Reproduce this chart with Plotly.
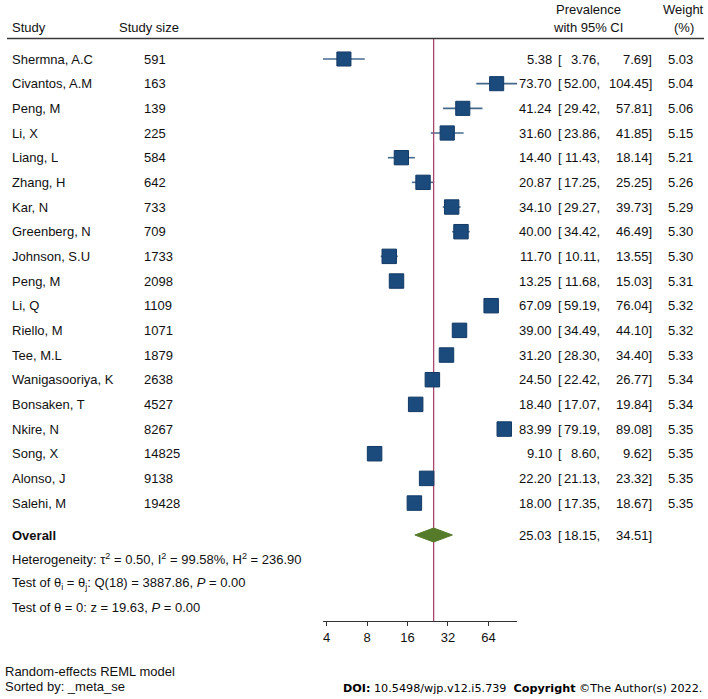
import math
import plotly.graph_objects as go

W, H = 708, 699

# ---------------- data ----------------
studies = ["Shermna, A.C", "Civantos, A.M", "Peng, M", "Li, X", "Liang, L", "Zhang, H",
           "Kar, N", "Greenberg, N", "Johnson, S.U", "Peng, M", "Li, Q", "Riello, M",
           "Tee, M.L", "Wanigasooriya, K", "Bonsaken, T", "Nkire, N", "Song, X",
           "Alonso, J", "Salehi, M"]
study_size = [591, 163, 139, 225, 584, 642, 733, 709, 1733, 2098, 1109, 1071, 1879,
              2638, 4527, 8267, 14825, 9138, 19428]
prevalence = [5.38, 73.70, 41.24, 31.60, 14.40, 20.87, 34.10, 40.00, 11.70, 13.25, 67.09,
              39.00, 31.20, 24.50, 18.40, 83.99, 9.10, 22.20, 18.00]
ci_low = [3.76, 52.00, 29.42, 23.86, 11.43, 17.25, 29.27, 34.42, 10.11, 11.68, 59.19,
          34.49, 28.30, 22.42, 17.07, 79.19, 8.60, 21.13, 17.35]
ci_high = [7.69, 104.45, 57.81, 41.85, 18.14, 25.25, 39.73, 46.49, 13.55, 15.03, 76.04,
           44.10, 34.40, 26.77, 19.84, 89.08, 9.62, 23.32, 18.67]
weights = [5.03, 5.04, 5.06, 5.15, 5.21, 5.26, 5.29, 5.30, 5.30, 5.31, 5.32, 5.32, 5.33,
           5.34, 5.34, 5.35, 5.35, 5.35, 5.35]
overall_est, overall_low, overall_high = 25.03, 18.15, 34.51
tick_vals = [4, 8, 16, 32, 64]

# ---------------- layout helpers ----------------
ROW0_PX, ROW_STEP = 59.0, 24.67


def px2row(py):
    return (py - ROW0_PX) / ROW_STEP


def xp(px):
    return px / W


def yp(py):
    return 1 - py / H


n = len(studies)
rows = list(range(n))
overall_row = px2row(535)

FONT = "Liberation Sans, Arial, sans-serif"
TXT = "#111111"
SQ = "#1b4a7c"
CI = "#45698b"
DIA = "#557a2a"
REF = "#a8486e"

fig = go.Figure()

# CI lines
cx, cy = [], []
for r, l, h in zip(rows, ci_low, ci_high):
    cx += [l, h, None]
    cy += [r, r, None]
fig.add_trace(go.Scatter(x=cx, y=cy, mode="lines", line=dict(color=CI, width=1.6),
                         hoverinfo="skip", cliponaxis=False))

# overall reference line
fig.add_trace(go.Scatter(x=[overall_est, overall_est], y=[px2row(38), px2row(621)],
                         mode="lines", line=dict(color=REF, width=1.3),
                         hoverinfo="skip", cliponaxis=False))

# squares
fig.add_trace(go.Scatter(
    x=prevalence, y=rows, mode="markers",
    marker=dict(symbol="square", color=SQ, opacity=1,
                size=[14.5 * math.sqrt(w / max(weights)) for w in weights],
                line=dict(color="#123a66", width=1)),
    cliponaxis=False, hoverinfo="skip"))

# diamond
dh = 7.0 / ROW_STEP
fig.add_trace(go.Scatter(
    x=[overall_low, overall_est, overall_high, overall_est, overall_low],
    y=[overall_row, overall_row - dh, overall_row, overall_row + dh, overall_row],
    mode="lines", fill="toself", fillcolor=DIA, line=dict(color=DIA, width=1),
    hoverinfo="skip", cliponaxis=False))

# ---------------- annotations ----------------
ann = []


def text(x, y, s, xanchor="left", size=13, yref="paper", family=FONT, color=TXT):
    ann.append(dict(x=x, y=y, xref="paper", yref=yref, text=s, showarrow=False,
                    xanchor=xanchor, yanchor="middle",
                    font=dict(family=family, size=size, color=color)))


# header
text(xp(10), yp(27), "Study")
text(xp(117), yp(27), "Study size")
text(xp(588), yp(9), "Prevalence", "center")
text(xp(588), yp(28), "with 95% CI", "center")
text(xp(683), yp(9), "Weight", "center")
text(xp(684), yp(28), "(%)", "center")

for r in rows:
    text(xp(10), r, studies[r], yref="y")
    text(xp(142), r, str(study_size[r]), yref="y")
    text(xp(554), r, f"{prevalence[r]:.2f}", "right", yref="y")
    text(xp(556), r, "[", yref="y")
    text(xp(602), r, f"{ci_low[r]:.2f},", "right", yref="y")
    text(xp(654), r, f"{ci_high[r]:.2f}]", "right", yref="y")
    text(xp(695), r, f"{weights[r]:.2f}", "right", yref="y")

text(xp(10), overall_row, "<b>Overall</b>", yref="y")
text(xp(554), overall_row, f"{overall_est:.2f}", "right", yref="y")
text(xp(556), overall_row, "[", yref="y")
text(xp(602), overall_row, f"{overall_low:.2f},", "right", yref="y")
text(xp(654), overall_row, f"{overall_high:.2f}]", "right", yref="y")

text(xp(10), yp(559), "Heterogeneity: τ<sup>2</sup> = 0.50, I<sup>2</sup> = 99.58%, H<sup>2</sup> = 236.90")
text(xp(10), yp(583), "Test of θ<sub>i</sub> = θ<sub>j</sub>: Q(18) = 3887.86, <i>P</i> = 0.00")
text(xp(10), yp(607), "Test of θ = 0: z = 19.63, <i>P</i> = 0.00")

text(xp(3), yp(671), "Random-effects REML model")
text(xp(3), yp(686), "Sorted by: _meta_se")

text(xp(704), yp(688),
     "<b>DOI:</b> 10.5498/wjp.v12.i5.739  <b>Copyright</b> ©The Author(s) 2022.",
     "right", size=11.2, family="DejaVu Sans, Verdana, sans-serif", color="#000000")

# header rule
shapes = [dict(type="line", xref="paper", yref="paper", x0=xp(7), x1=xp(704),
               y0=yp(38.5), y1=yp(38.5), line=dict(color="#3a3a3a", width=1.5))]

xmin, xmax = min(ci_low), max(ci_high)

fig.update_layout(
    width=W, height=H, margin=dict(l=0, r=0, t=0, b=0),
    paper_bgcolor="white", plot_bgcolor="white", showlegend=False,
    annotations=ann, shapes=shapes,
    xaxis=dict(type="log", domain=[xp(323), xp(517)],
               range=[math.log10(xmin), math.log10(xmax)],
               anchor="free", position=yp(621), side="bottom",
               showline=True, linecolor="#333333", linewidth=1,
               ticks="outside", ticklen=4, tickcolor="#333333",
               tickvals=tick_vals, ticktext=[str(v) for v in tick_vals],
               tickfont=dict(family=FONT, size=13, color=TXT),
               showgrid=False, zeroline=False, fixedrange=True),
    yaxis=dict(range=[px2row(H), px2row(0)], domain=[0, 1], visible=False,
               showgrid=False, zeroline=False, fixedrange=True),
)

fig.write_html("out.html", config={"displayModeBar": False},
               post_script="document.body.style.margin='0';document.body.style.overflow='hidden';")
